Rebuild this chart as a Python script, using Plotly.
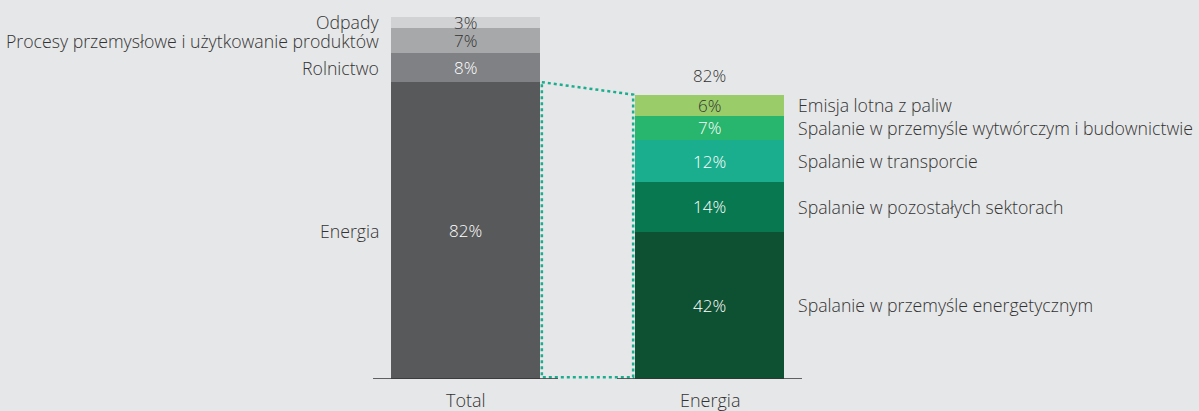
import plotly.graph_objects as go

# ---- data ----
total_categories = ["Energia", "Rolnictwo", "Procesy przemysłowe i użytkowanie produktów", "Odpady"]
total_values = [82, 8, 7, 3]
total_colors = ["#58595b", "#808184", "#a7a8aa", "#d1d2d4"]
total_text_colors = ["#ffffff", "#ffffff", "#333333", "#333333"]

energia_categories = ["Spalanie w przemyśle energetycznym", "Spalanie w pozostałych sektorach",
                      "Spalanie w transporcie", "Spalanie w przemyśle wytwórczym i budownictwie",
                      "Emisja lotna z paliw"]
energia_values = [42, 14, 12, 7, 6]
energia_colors = ["#0e5032", "#087850", "#1bae8e", "#28b56d", "#9acd6a"]
energia_text_colors = ["#ffffff", "#ffffff", "#ffffff", "#ffffff", "#333333"]
energia_total_label = "82%"

x_labels = ["Total", "Energia"]

# ---- layout constants ----
BG = "#e6e7e8"
TXT = "#333333"
FONT = "Open Sans"
FS = 17.7
FS_IN = 17
FW = 300
BAR_W = 0.61
ENERGIA_AXIS_MAX = 103.1
CONNECT = "#1aae8e"

fig = go.Figure()

# Total bar
for name, v, c in zip(total_categories, total_values, total_colors):
    fig.add_trace(go.Bar(x=[0], y=[v], name=name, marker=dict(color=c, line=dict(width=0)),
                         width=BAR_W, xaxis="x", yaxis="y", hoverinfo="name+y"))
# Energia bar
for name, v, c in zip(energia_categories, energia_values, energia_colors):
    fig.add_trace(go.Bar(x=[1], y=[v], name=name, marker=dict(color=c, line=dict(width=0)),
                         width=BAR_W, xaxis="x", yaxis="y2", hoverinfo="name+y"))

# connector (dotted quadrilateral) in y coordinates
k = 100.0 / ENERGIA_AXIS_MAX
e_top_y = sum(energia_values) * k
xl = BAR_W / 2 + 0.008
xr = 1 - BAR_W / 2 - 0.008
fig.add_trace(go.Scatter(
    x=[xl, xr, xr, xl, xl],
    y=[total_values[0], e_top_y, 0.5, 0.5, total_values[0]],
    mode="lines", line=dict(color=CONNECT, width=2.5, dash="dot"),
    xaxis="x", yaxis="y", hoverinfo="skip", showlegend=False))


def f(color, size=FS):
    return dict(color=color, size=size, family=FONT, weight=FW)


annotations = []
# Total bar labels
cum = 0
for name, v, tc in zip(total_categories, total_values, total_text_colors):
    mid = cum + v / 2
    annotations.append(dict(x=0, y=mid, xref="x", yref="y", text=f"{v}%", showarrow=False,
                            font=f(tc, FS_IN), xanchor="center", yanchor="middle"))
    annotations.append(dict(x=-BAR_W / 2, y=mid, xref="x", yref="y", text=name, showarrow=False,
                            font=f(TXT), xanchor="right", yanchor="middle", xshift=-10))
    cum += v
# Energia bar labels
cum = 0
for name, v, tc in zip(energia_categories, energia_values, energia_text_colors):
    mid = cum + v / 2
    annotations.append(dict(x=1, y=mid, xref="x", yref="y2", text=f"{v}%", showarrow=False,
                            font=f(tc, FS_IN), xanchor="center", yanchor="middle"))
    annotations.append(dict(x=1 + BAR_W / 2, y=mid, xref="x", yref="y2", text=name, showarrow=False,
                            font=f(TXT), xanchor="left", yanchor="middle", xshift=12))
    cum += v
annotations.append(dict(x=1, y=sum(energia_values), xref="x", yref="y2", text=energia_total_label,
                        showarrow=False, font=f(TXT, FS_IN), xanchor="center", yanchor="bottom", yshift=6))
# category labels
for i, lab in enumerate(x_labels):
    annotations.append(dict(x=i, y=0, xref="x", yref="y", text=lab, showarrow=False,
                            font=f(TXT, 18), xanchor="center", yanchor="top", yshift=-7))

# baseline segments
shapes = []
for i in range(len(x_labels)):
    shapes.append(dict(type="line", xref="x", yref="y", x0=i - 0.379, x1=i + 0.379, y0=0, y1=0,
                       line=dict(color="#333333", width=1.5), layer="above"))

fig.update_layout(
    width=1199, height=411,
    margin=dict(l=0, r=0, t=17, b=32),
    paper_bgcolor=BG, plot_bgcolor=BG,
    barmode="stack", bargap=0, showlegend=False,
    font=dict(family=FONT, color=TXT, size=FS),
    xaxis=dict(range=[-465.5 / 244, (1199 - 465.5) / 244], showgrid=False, zeroline=False,
               showticklabels=False, showline=False, fixedrange=True),
    yaxis=dict(range=[0, 100], showgrid=False, zeroline=False, showticklabels=False, fixedrange=True),
    yaxis2=dict(range=[0, ENERGIA_AXIS_MAX], overlaying="y", showgrid=False, zeroline=False,
                showticklabels=False, fixedrange=True),
    annotations=annotations, shapes=shapes,
)

fig.write_html("out.html", config={"displayModeBar": False},
               post_script="document.body.style.margin='0';document.body.style.overflow='hidden';")
